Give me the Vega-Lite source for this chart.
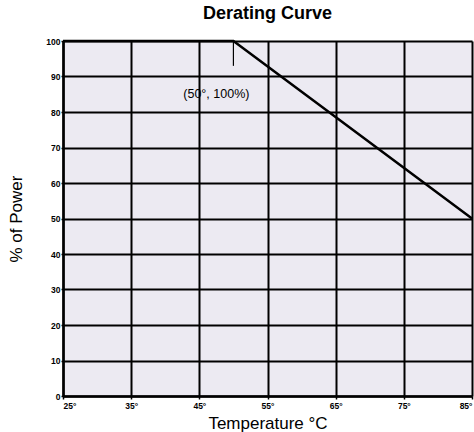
{
  "$schema": "https://vega.github.io/schema/vega-lite/v6.json",
  "width": 409,
  "height": 355,
  "autosize": "none",
  "padding": {"left": 63, "top": 41, "right": 2, "bottom": 36},
  "background": "white",
  "title": {"text": "Derating Curve", "font": "Liberation Sans", "fontSize": 18, "fontWeight": "bold", "color": "black", "offset": 13, "anchor": "middle"},
  "config": {
    "view": {"fill": "#ECEAF2", "stroke": null},
    "axis": {"grid": true, "gridColor": "black", "gridWidth": 2, "gridOpacity": 1, "domainColor": "black", "domainWidth": 2.5, "tickColor": "black", "tickWidth": 1.5, "labelColor": "black", "labelFont": "Liberation Sans", "labelFontWeight": "bold", "labelFontSize": 8.5, "labelOverlap": false, "titleFont": "Liberation Sans", "titleFontWeight": "normal", "titleFontSize": 17, "titleColor": "black"}
  },
  "encoding": {
    "x": {"field": "temp", "type": "quantitative", "scale": {"domain": [25, 85], "nice": false, "zero": false}, "axis": {"values": [25, 35, 45, 55, 65, 75, 85], "labelExpr": "datum.value + '°'", "title": "Temperature °C", "tickSize": 3, "labelPadding": 2, "titlePadding": 6, "labelFlush": true}},
    "y": {"field": "power", "type": "quantitative", "scale": {"domain": [0, 100], "nice": false}, "axis": {"values": [0, 10, 20, 30, 40, 50, 60, 70, 80, 90, 100], "title": "% of Power", "tickSize": 2, "labelPadding": 1, "titlePadding": 20}}
  },
  "layer": [
    {
      "data": {"values": [
        {"temp": 25, "power": 100},
        {"temp": 50, "power": 100},
        {"temp": 85, "power": 50}
      ]},
      "mark": {"type": "line", "color": "black", "strokeWidth": 2.5}
    },
    {
      "data": {"values": [{"temp": 50, "power": 100, "bottom": 93}]},
      "mark": {"type": "rule", "color": "black", "strokeWidth": 1.2},
      "encoding": {
        "y2": {"field": "bottom"}
      }
    },
    {
      "data": {"values": [{"temp": 47.5, "power": 85, "label": "(50°, 100%)"}]},
      "mark": {"type": "text", "font": "Liberation Sans", "fontSize": 12.5, "color": "black", "baseline": "middle", "align": "center"},
      "encoding": {
        "text": {"field": "label"}
      }
    }
  ]
}
